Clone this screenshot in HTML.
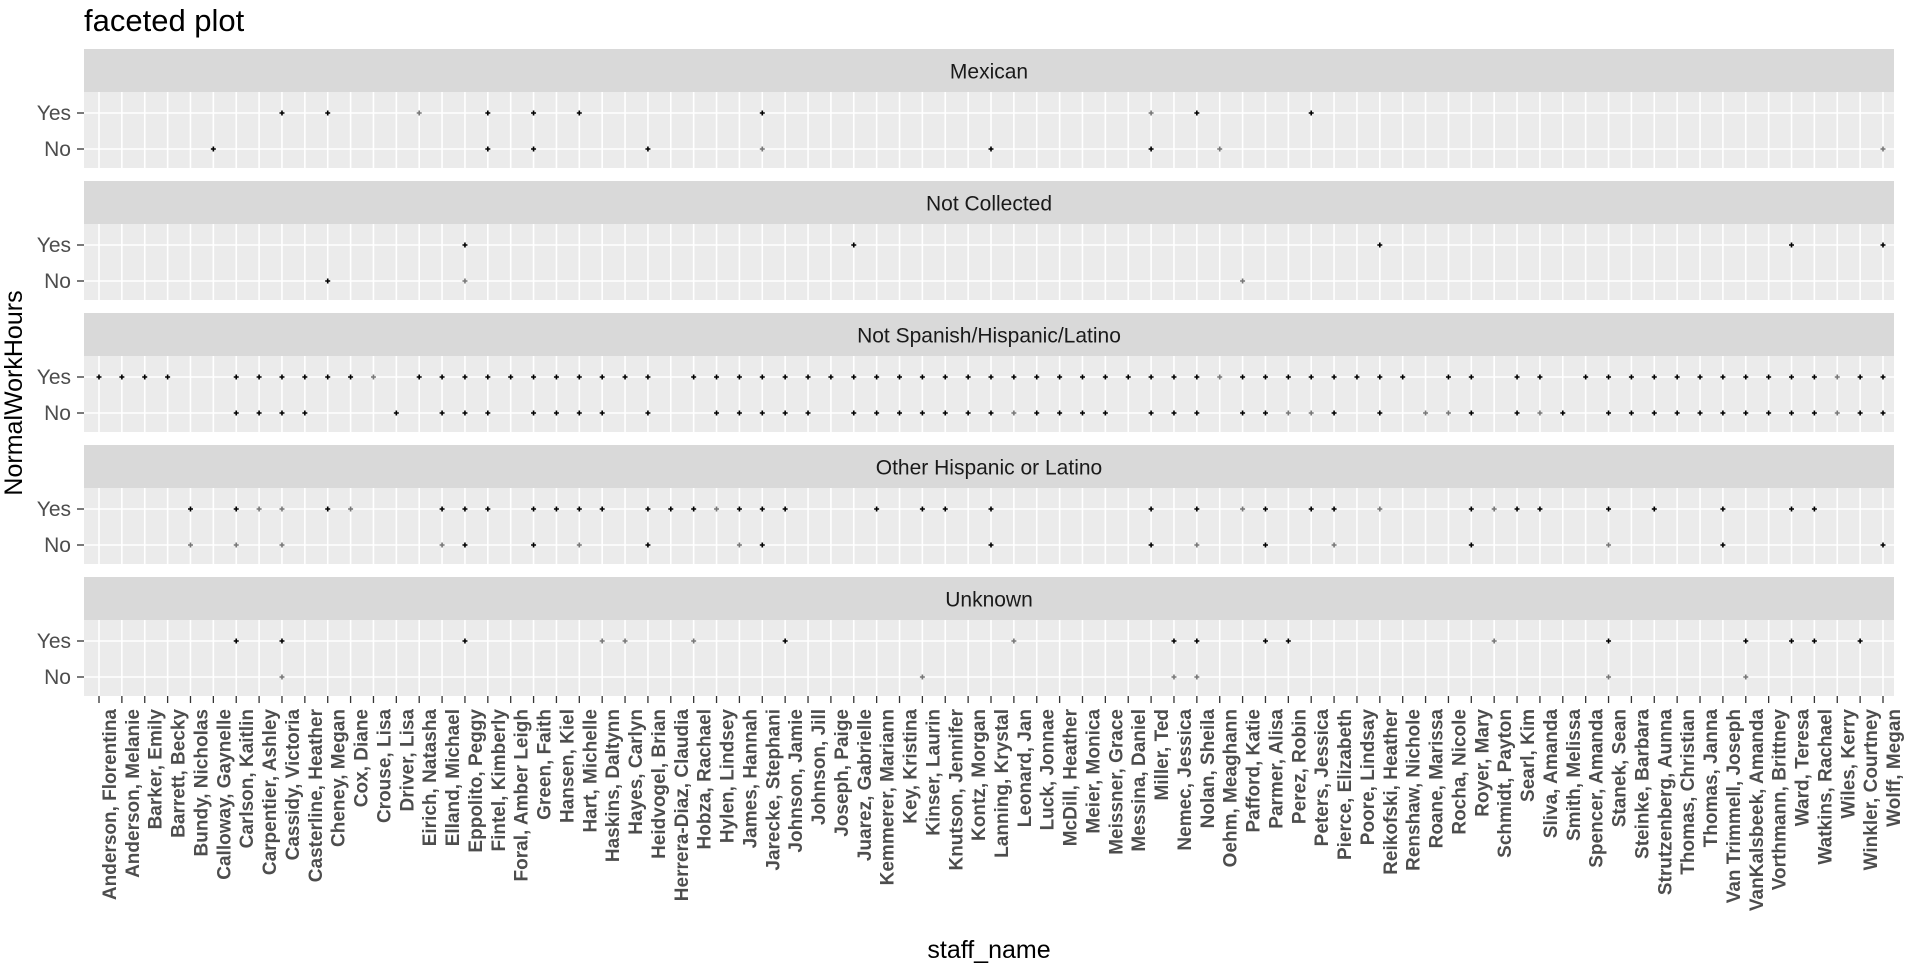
<!DOCTYPE html>
<html><head><meta charset="utf-8"><style>
html,body{margin:0;padding:0;background:#fff;}
svg{display:block;font-family:"Liberation Sans",sans-serif;}
</style></head><body>
<svg id="chart" width="1909" height="973">
<text x="84" y="31" font-size="31" fill="#000">faceted plot</text>
<text transform="translate(22,393) rotate(-90)" text-anchor="middle" font-size="25" fill="#000">NormalWorkHours</text>
<text x="989" y="958" text-anchor="middle" font-size="25" fill="#000">staff_name</text>
</svg>
<script>
const names=["Anderson, Florentina","Anderson, Melanie","Barker, Emily","Barrett, Becky","Bundy, Nicholas","Calloway, Gaynelle","Carlson, Kaitlin","Carpentier, Ashley","Cassidy, Victoria","Casterline, Heather","Cheney, Megan","Cox, Diane","Crouse, Lisa","Driver, Lisa","Eirich, Natasha","Elland, Michael","Eppolito, Peggy","Fintel, Kimberly","Foral, Amber Leigh","Green, Faith","Hansen, Kiel","Hart, Michelle","Haskins, Daltynn","Hayes, Carlyn","Heidvogel, Brian","Herrera-Diaz, Claudia","Hobza, Rachael","Hylen, Lindsey","James, Hannah","Jarecke, Stephani","Johnson, Jamie","Johnson, Jill","Joseph, Paige","Juarez, Gabrielle","Kemmerer, Mariann","Key, Kristina","Kinser, Laurin","Knutson, Jennifer","Kontz, Morgan","Lanning, Krystal","Leonard, Jan","Luck, Jonnae","McDill, Heather","Meier, Monica","Meissner, Grace","Messina, Daniel","Miller, Ted","Nemec, Jessica","Nolan, Sheila","Oehm, Meaghann","Pafford, Katie","Parmer, Alisa","Perez, Robin","Peters, Jessica","Pierce, Elizabeth","Poore, Lindsay","Reikofski, Heather","Renshaw, Nichole","Roane, Marissa","Rocha, Nicole","Royer, Mary","Schmidt, Payton","Searl, Kim","Sliva, Amanda","Smith, Melissa","Spencer, Amanda","Stanek, Sean","Steinke, Barbara","Strutzenberg, Aunna","Thomas, Christian","Thomas, Janna","Van Trimmell, Joseph","VanKalsbeek, Amanda","Vorthmann, Brittney","Ward, Teresa","Watkins, Rachael","Wiles, Kerry","Winkler, Courtney","Wolff, Megan"];
const facets=["Mexican","Not Collected","Not Spanish/Hispanic/Latino","Other Hispanic or Latino","Unknown"];
const levels=["No","Yes"];
// staff indices with a point; "Light" = fainter points
const yesDark=[[8,10,17,19,21,29,48,53],[16,33,56,74,78],[0,1,2,3,6,7,8,9,10,11,14,15,16,17,18,19,20,21,22,23,24,26,27,28,29,30,31,32,33,34,35,36,37,38,39,40,41,42,43,44,45,46,47,48,50,51,52,53,54,55,56,57,59,60,62,63,65,66,67,68,69,70,71,72,73,74,75,77,78],[4,6,10,15,16,17,19,20,21,22,24,25,26,28,29,30,34,36,37,39,46,48,51,53,54,60,62,63,66,68,71,74,75],[6,8,16,30,47,48,51,52,66,72,74,75,77]];
const yesLight=[[14,46],[],[12,49,76],[7,8,11,27,50,56,61],[22,23,26,40,61]];
const noDark=[[5,17,19,24,39,46],[10],[6,7,8,9,13,15,16,17,19,20,21,22,24,27,28,29,30,31,33,34,35,36,37,38,39,41,42,43,44,46,47,48,50,51,54,56,60,62,64,66,67,68,69,70,71,72,73,74,75,77,78],[16,19,24,29,39,46,51,60,71,78],[]];
const noLight=[[29,49,78],[16,50],[40,52,53,58,59,63,76],[4,6,8,15,21,28,48,54,66],[8,36,47,48,66,72]];

const svg=document.getElementById('chart');
const NS='http://www.w3.org/2000/svg';
const X0=99,X1=1883,PL=84,PR=1894,TOP=49,PERIOD=132,STRIP=43,PH=76;
const xs=i=>X0+(X1-X0)*i/(names.length-1);
const ys=(f,lv)=>TOP+f*PERIOD+STRIP+(lv===1?21:57);
function mk(t,a){const e=document.createElementNS(NS,t);for(const k in a)e.setAttribute(k,a[k]);svg.appendChild(e);return e;}
facets.forEach((fn,f)=>{
  const st=TOP+f*PERIOD;
  const s=mk('rect',{x:PL,y:st,width:PR-PL,height:STRIP,fill:'#d9d9d9'});
  
  
  const t=mk('text',{x:(PL+PR)/2,y:st+STRIP/2+8,'text-anchor':'middle','font-size':'21',fill:'#1a1a1a'});
  t.textContent=fn;
  
  
  const p=mk('rect',{x:PL,y:st+STRIP,width:PR-PL,height:PH,fill:'#ebebeb'});
  
  
  names.forEach((n,i)=>{const g=mk('line',{x1:xs(i),x2:xs(i),y1:st+STRIP,y2:st+STRIP+PH,stroke:'#fff','stroke-width':1.6});
    
    });
  levels.forEach((lv,l)=>{
    const y=ys(f,l);
    const g=mk('line',{x1:PL,x2:PR,y1:y,y2:y,stroke:'#fff','stroke-width':1.6});
    
    
    const tk=mk('line',{x1:77,x2:84,y1:y,y2:y,stroke:'#333','stroke-width':1.3});
    
    
    const lt=mk('text',{x:71,y:y+7,'text-anchor':'end','font-size':'21',fill:'#4d4d4d'});
    lt.textContent=lv;
    
    
  });
  const sets=[[yesDark[f],1,'#000'],[yesLight[f],1,'#777'],[noDark[f],0,'#000'],[noLight[f],0,'#777']];
  sets.forEach(([arr,l,c])=>arr.forEach(i=>{
    const d=mk('path',{d:`M${xs(i)-2.5},${ys(f,l)}h5M${xs(i)},${ys(f,l)-2.5}v5`,stroke:c,'stroke-width':1.6});
    
    
  }));
});
const bottom=TOP+4*PERIOD+STRIP+PH;
names.forEach((n,i)=>{
  const tk=mk('line',{x1:xs(i),x2:xs(i),y1:bottom,y2:bottom+7,stroke:'#333','stroke-width':1.3});
  
  
  const t=mk('text',{transform:`translate(${xs(i)+17},${bottom+13}) rotate(-90)`,'text-anchor':'end','font-size':'19','font-weight':'bold',fill:'#4d4d4d'});
  t.textContent=n;
  
  
});
</script>
</body></html>
